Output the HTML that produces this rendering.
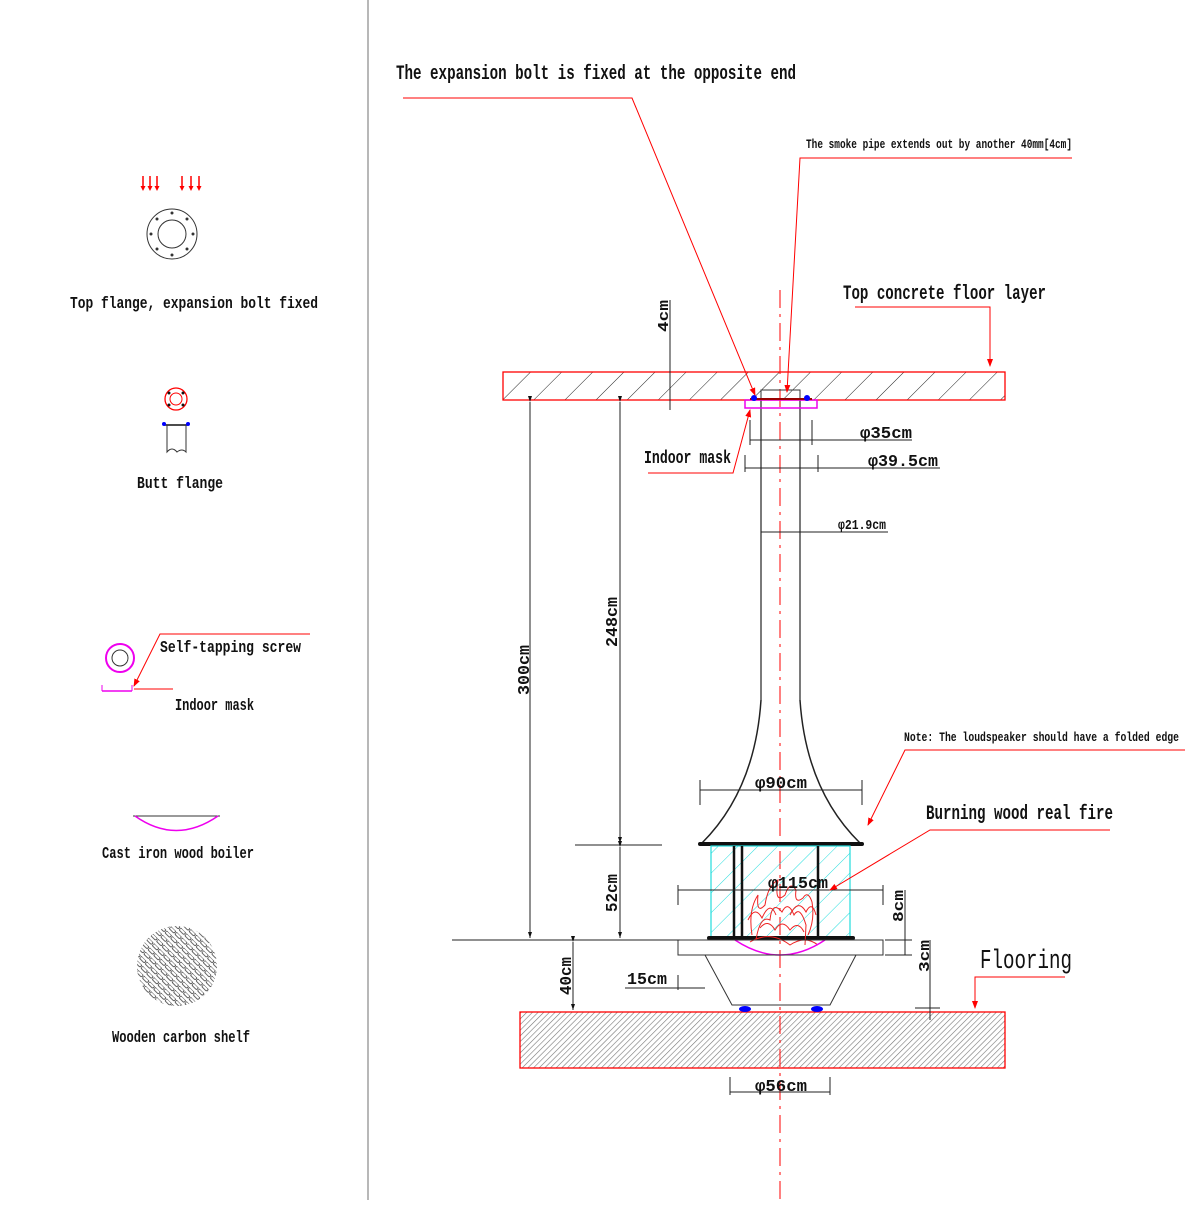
<!DOCTYPE html>
<html><head><meta charset="utf-8"><style>
html,body{margin:0;padding:0;background:#fff}
svg text{font-family:"Liberation Mono",monospace;font-weight:bold;fill:#111}
</style></head><body>
<svg width="1200" height="1200" viewBox="0 0 1200 1200" xmlns="http://www.w3.org/2000/svg">
<defs>
<pattern id="h1" width="22" height="22" patternUnits="userSpaceOnUse" patternTransform="rotate(45)">
<line x1="0" y1="0" x2="0" y2="22" stroke="#222" stroke-width="1"/></pattern>
<pattern id="h2" width="4" height="4" patternUnits="userSpaceOnUse" patternTransform="rotate(45)">
<line x1="0" y1="0" x2="0" y2="4" stroke="#777" stroke-width="1.2"/></pattern>
<pattern id="h3" width="14" height="14" patternUnits="userSpaceOnUse" patternTransform="rotate(45)">
<line x1="0" y1="0" x2="0" y2="14" stroke="#2dd" stroke-width="1"/></pattern>
<pattern id="h4" width="8" height="6" patternUnits="userSpaceOnUse" patternTransform="rotate(45)">
<rect x="0" y="0" width="7" height="3" rx="1.5" fill="none" stroke="#333" stroke-width="0.8"/></pattern>
<marker id="ar" markerWidth="8" markerHeight="8" refX="7" refY="4" orient="auto"><path d="M0,1 L8,4 L0,7z" fill="red"/></marker>
<marker id="ab" markerWidth="6" markerHeight="6" refX="6" refY="3" orient="auto"><path d="M0,1 L6,3 L0,5z" fill="#111"/></marker>
</defs>

<line x1="368" y1="0" x2="368" y2="1200" stroke="#888" stroke-width="1.2"/>

<!-- LEFT LEGEND -->
<g stroke="red" stroke-width="1.5">
<line x1="143" y1="176" x2="143" y2="188"/><line x1="150" y1="176" x2="150" y2="188"/><line x1="157" y1="176" x2="157" y2="188"/>
<line x1="182" y1="176" x2="182" y2="188"/><line x1="191" y1="176" x2="191" y2="188"/><line x1="199" y1="176" x2="199" y2="188"/>
</g>
<g fill="red">
<path d="M140.5,186 h5 l-2.5,5z"/><path d="M147.5,186 h5 l-2.5,5z"/><path d="M154.5,186 h5 l-2.5,5z"/>
<path d="M179.5,186 h5 l-2.5,5z"/><path d="M188.5,186 h5 l-2.5,5z"/><path d="M196.5,186 h5 l-2.5,5z"/>
</g>
<circle cx="172" cy="234" r="25" fill="none" stroke="#333"/>
<circle cx="172" cy="234" r="14" fill="none" stroke="#333"/>
<g fill="#333"><circle cx="172" cy="213" r="1.5"/><circle cx="172" cy="255" r="1.5"/><circle cx="151" cy="234" r="1.5"/><circle cx="193" cy="234" r="1.5"/>
<circle cx="157" cy="219" r="1.5"/><circle cx="187" cy="219" r="1.5"/><circle cx="157" cy="249" r="1.5"/><circle cx="187" cy="249" r="1.5"/></g>
<text x="70" y="308" font-size="17" textLength="248" lengthAdjust="spacingAndGlyphs">Top flange, expansion bolt fixed</text>

<circle cx="176" cy="399" r="11" fill="none" stroke="red" stroke-width="1.3"/>
<circle cx="176" cy="399" r="6" fill="none" stroke="red"/>
<g fill="#111"><circle cx="169" cy="393" r="1.5"/><circle cx="183" cy="393" r="1.5"/><circle cx="169" cy="405" r="1.5"/><circle cx="183" cy="405" r="1.5"/></g>
<line x1="164" y1="425" x2="188" y2="425" stroke="#111" stroke-width="1.5"/>
<circle cx="164" cy="424" r="2" fill="blue"/><circle cx="188" cy="424" r="2" fill="blue"/>
<path d="M167,425 V452 Q172,446 177,452 Q182,448 186,452 V425" fill="none" stroke="#333"/>
<text x="137" y="488" font-size="17" textLength="86" lengthAdjust="spacingAndGlyphs">Butt flange</text>

<circle cx="120" cy="658" r="14" fill="none" stroke="#e0e" stroke-width="2"/>
<circle cx="120" cy="658" r="8" fill="none" stroke="#333"/>
<line x1="102" y1="691" x2="132" y2="691" stroke="#e0e" stroke-width="1.5"/>
<line x1="102" y1="685" x2="102" y2="691" stroke="#e0e"/><line x1="132" y1="685" x2="132" y2="691" stroke="#e0e"/>
<polyline points="310,634 160,634 134,686" fill="none" stroke="red" marker-end="url(#ar)"/>
<line x1="134" y1="689" x2="173" y2="689" stroke="red"/>
<text x="160" y="652" font-size="17" textLength="141" lengthAdjust="spacingAndGlyphs">Self-tapping screw</text>
<text x="175" y="710" font-size="17" textLength="79" lengthAdjust="spacingAndGlyphs">Indoor mask</text>

<line x1="133" y1="816" x2="220" y2="816" stroke="#333"/>
<path d="M135,816 Q176,845 218,816" fill="none" stroke="#e0e" stroke-width="1.5"/>
<text x="102" y="858" font-size="17" textLength="152" lengthAdjust="spacingAndGlyphs">Cast iron wood boiler</text>

<circle cx="177" cy="966" r="40" fill="url(#h4)" stroke="none"/>
<text x="112" y="1042" font-size="17" textLength="138" lengthAdjust="spacingAndGlyphs">Wooden carbon shelf</text>

<!-- RIGHT DRAWING -->
<rect x="503" y="372" width="502" height="28" fill="url(#h1)" stroke="red" stroke-width="1.3"/>
<rect x="520" y="1012" width="485" height="56" fill="url(#h2)" stroke="red" stroke-width="1.3"/>
<line x1="780" y1="290" x2="780" y2="1200" stroke="red" stroke-width="1" stroke-dasharray="18,6,3,6"/>

<!-- pipe -->
<rect x="761" y="390" width="39" height="10" fill="none" stroke="#333"/>
<line x1="761" y1="400" x2="761" y2="700" stroke="#333" stroke-width="1.3"/>
<line x1="800" y1="400" x2="800" y2="700" stroke="#333" stroke-width="1.3"/>
<path d="M761,700 Q755,790 702,843" fill="none" stroke="#222" stroke-width="1.5"/>
<path d="M800,700 Q806,790 860,843" fill="none" stroke="#222" stroke-width="1.5"/>
<line x1="700" y1="844" x2="862" y2="844" stroke="#111" stroke-width="4" stroke-linecap="round"/>
<!-- mask -->
<rect x="745" y="400" width="72" height="8" fill="none" stroke="#e0e" stroke-width="1.5"/>
<line x1="750" y1="399" x2="812" y2="399" stroke="#900" stroke-width="2"/>
<circle cx="754" cy="398" r="3" fill="blue"/><circle cx="807" cy="398" r="3" fill="blue"/>

<!-- glass -->
<rect x="711" y="846" width="139" height="92" fill="url(#h3)" stroke="#2dd" stroke-width="1.2"/>
<g stroke="#111" stroke-width="2.5">
<line x1="734" y1="846" x2="734" y2="938"/><line x1="742" y1="846" x2="742" y2="938"/><line x1="818" y1="846" x2="818" y2="938"/>
</g>
<line x1="709" y1="938" x2="853" y2="938" stroke="#111" stroke-width="4" stroke-linecap="round"/>
<!-- flames -->
<g fill="none" stroke="#e22" stroke-width="1">
<path d="M752,935 Q748,910 758,895 Q756,915 765,905 Q768,885 778,880 Q774,905 785,895 Q790,880 796,890 Q794,905 803,898 Q808,890 812,902 Q815,920 808,935"/>
<path d="M756,940 Q760,915 770,920 Q772,900 782,912 Q788,900 794,915 Q800,905 806,925 L805,945"/>
<path d="M750,942 Q770,930 790,945 Q805,935 818,945"/>
<path d="M760,928 Q768,918 775,930 Q782,918 790,930 Q798,920 804,932"/>
<path d="M748,920 Q755,905 762,918 Q770,900 776,915"/>
<path d="M790,915 Q798,898 806,912 Q812,900 816,915"/>
</g>
<path d="M735,940 Q780,970 825,940" fill="none" stroke="#e0e" stroke-width="1.5"/>
<!-- base -->
<rect x="678" y="940" width="205" height="15" fill="none" stroke="#333"/>
<polyline points="705,955 732,1005 830,1005 856,955" fill="none" stroke="#333"/>
<ellipse cx="745" cy="1009" rx="6" ry="3" fill="blue"/><ellipse cx="817" cy="1009" rx="6" ry="3" fill="blue"/>

<!-- dimensions -->
<g stroke="#222" stroke-width="1" fill="none">
<line x1="452" y1="940" x2="680" y2="940"/>
<line x1="575" y1="845" x2="662" y2="845"/>
<line x1="530" y1="402" x2="530" y2="938" marker-start="url(#ab)" marker-end="url(#ab)"/>
<line x1="620" y1="402" x2="620" y2="843" marker-start="url(#ab)" marker-end="url(#ab)"/>
<line x1="620" y1="847" x2="620" y2="938" marker-start="url(#ab)" marker-end="url(#ab)"/>
<line x1="573" y1="942" x2="573" y2="1010" marker-start="url(#ab)" marker-end="url(#ab)"/>
<line x1="670" y1="300" x2="670" y2="410"/>
<line x1="750" y1="420" x2="750" y2="445"/><line x1="812" y1="420" x2="812" y2="445"/>
<line x1="750" y1="440" x2="912" y2="440"/>
<line x1="745" y1="455" x2="745" y2="472"/><line x1="818" y1="455" x2="818" y2="472"/>
<line x1="745" y1="468" x2="940" y2="468"/>
<line x1="761" y1="532" x2="888" y2="532"/>
<line x1="700" y1="790" x2="862" y2="790"/><line x1="700" y1="780" x2="700" y2="805"/><line x1="862" y1="780" x2="862" y2="805"/>
<line x1="678" y1="890" x2="883" y2="890"/><line x1="678" y1="885" x2="678" y2="905"/><line x1="883" y1="885" x2="883" y2="905"/>
<line x1="625" y1="988" x2="705" y2="988"/><line x1="678" y1="975" x2="678" y2="990"/>
<line x1="905" y1="890" x2="905" y2="955"/><line x1="885" y1="940" x2="912" y2="940"/><line x1="885" y1="955" x2="912" y2="955"/>
<line x1="930" y1="940" x2="930" y2="1020"/><line x1="915" y1="1008" x2="940" y2="1008"/>
<line x1="730" y1="1077" x2="730" y2="1095"/><line x1="830" y1="1077" x2="830" y2="1095"/>
<line x1="730" y1="1092" x2="830" y2="1092"/>
</g>
<text font-size="17" transform="translate(529,695) rotate(-90)" textLength="50" lengthAdjust="spacingAndGlyphs">300cm</text>
<text font-size="17" transform="translate(617,647) rotate(-90)" textLength="50" lengthAdjust="spacingAndGlyphs">248cm</text>
<text font-size="17" transform="translate(617,912) rotate(-90)" textLength="38" lengthAdjust="spacingAndGlyphs">52cm</text>
<text font-size="17" transform="translate(571,995) rotate(-90)" textLength="38" lengthAdjust="spacingAndGlyphs">40cm</text>
<text font-size="15" transform="translate(668,332) rotate(-90)" textLength="32" lengthAdjust="spacingAndGlyphs">4cm</text>
<text font-size="15" transform="translate(903,922) rotate(-90)" textLength="32" lengthAdjust="spacingAndGlyphs">8cm</text>
<text font-size="15" transform="translate(929,972) rotate(-90)" textLength="32" lengthAdjust="spacingAndGlyphs">3cm</text>
<text x="860" y="438" font-size="17" textLength="52" lengthAdjust="spacingAndGlyphs">φ35cm</text>
<text x="868" y="466" font-size="17" textLength="70" lengthAdjust="spacingAndGlyphs">φ39.5cm</text>
<text x="838" y="529" font-size="14" textLength="48" lengthAdjust="spacingAndGlyphs">φ21.9cm</text>
<text x="755" y="788" font-size="17" textLength="52" lengthAdjust="spacingAndGlyphs">φ90cm</text>
<text x="768" y="888" font-size="17" textLength="60" lengthAdjust="spacingAndGlyphs">φ115cm</text>
<text x="755" y="1091" font-size="17" textLength="52" lengthAdjust="spacingAndGlyphs">φ56cm</text>
<text x="627" y="984" font-size="17" textLength="40" lengthAdjust="spacingAndGlyphs">15cm</text>

<!-- callouts -->
<g stroke="red" stroke-width="1" fill="none">
<polyline points="403,98 632,98 755,395" marker-end="url(#ar)"/>
<polyline points="1072,158 800,158 787,392" marker-end="url(#ar)"/>
<polyline points="855,307 990,307 990,366" marker-end="url(#ar)"/>
<polyline points="648,473 733,473 750,410" marker-end="url(#ar)"/>
<polyline points="1185,750 905,750 868,825" marker-end="url(#ar)"/>
<polyline points="1110,830 930,830 830,890" marker-end="url(#ar)"/>
<polyline points="1065,977 975,977 975,1008" marker-end="url(#ar)"/>
</g>
<text x="396" y="79" font-size="20" textLength="400" lengthAdjust="spacingAndGlyphs">The expansion bolt is fixed at the opposite end</text>
<text x="806" y="148" font-size="13" textLength="266" lengthAdjust="spacingAndGlyphs">The smoke pipe extends out by another 40mm[4cm]</text>
<text x="843" y="299" font-size="20" textLength="203" lengthAdjust="spacingAndGlyphs">Top concrete floor layer</text>
<text x="644" y="463" font-size="18" textLength="87" lengthAdjust="spacingAndGlyphs">Indoor mask</text>
<text x="904" y="741" font-size="13" textLength="275" lengthAdjust="spacingAndGlyphs">Note: The loudspeaker should have a folded edge</text>
<text x="926" y="819" font-size="20" textLength="187" lengthAdjust="spacingAndGlyphs">Burning wood real fire</text>
<text x="980" y="968" font-size="27" textLength="92" lengthAdjust="spacingAndGlyphs" style="font-weight:normal">Flooring</text>
</svg>
</body></html>
